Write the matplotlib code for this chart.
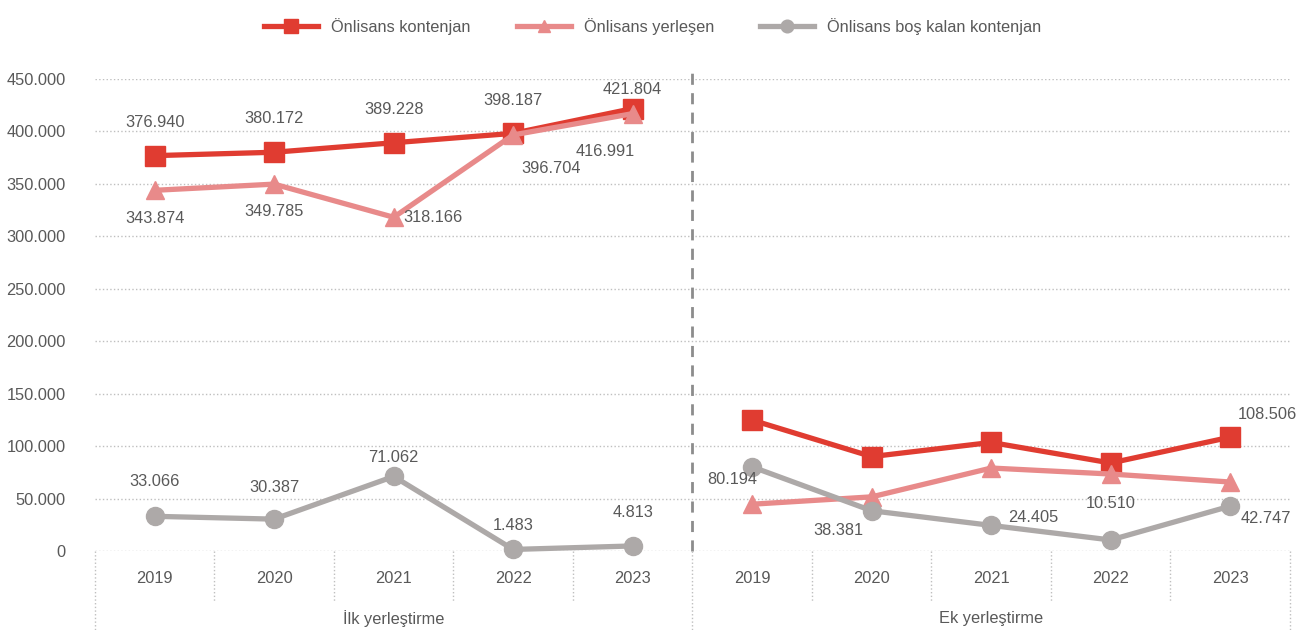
import matplotlib
matplotlib.use('Agg')
import matplotlib.pyplot as plt
from matplotlib import font_manager
from matplotlib.transforms import blended_transform_factory

# pick a narrow font if there is one
names = set(f.name for f in font_manager.fontManager.ttflist)
FONT = 'Liberation Sans Narrow' if 'Liberation Sans Narrow' in names else 'Liberation Sans'
plt.rcParams['font.family'] = [FONT, 'DejaVu Sans']
FS = 13 if FONT == 'Liberation Sans Narrow' else 11.8

groups = ['İlk yerleştirme', 'Ek yerleştirme']
years = ['2019', '2020', '2021', '2022', '2023']

ilk_kontenjan = [376940, 380172, 389228, 398187, 421804]
ilk_yerlesen = [343874, 349785, 318166, 396704, 416991]
ilk_bos = [33066, 30387, 71062, 1483, 4813]

ek_kontenjan = [124800, 90000, 103500, 83900, 108506]
ek_yerlesen = [44606, 51619, 79095, 73390, 65759]
ek_bos = [80194, 38381, 24405, 10510, 42747]

RED = '#E03C31'
PINK = '#E88A8A'
GRAY = '#ADA9A8'
TXT = '#595959'


def fmt(v):
	return '{:,}'.format(v).replace(',', '.')


fig = plt.figure(figsize=(13.06, 6.3), dpi=100)
ax = fig.add_axes([0.0727, 0.1254, 0.915, 0.7492])

n = len(years)
x1 = list(range(n))
x2 = [i + n for i in range(n)]

series = [
	('Önlisans kontenjan', ilk_kontenjan, ek_kontenjan, RED, 's', 15),
	('Önlisans yerleşen', ilk_yerlesen, ek_yerlesen, PINK, '^', 13),
	('Önlisans boş kalan kontenjan', ilk_bos, ek_bos, GRAY, 'o', 13),
]

for name, a, b, col, mk, ms in series:
	ax.plot(x1, a, color=col, lw=3.8, marker=mk, ms=ms, label=name, clip_on=False, zorder=3)
	ax.plot(x2, b, color=col, lw=3.8, marker=mk, ms=ms, clip_on=False, zorder=3)

# data labels (offsets in points)
lab = dict(fontsize=FS, color=TXT, ha='center', va='center')
kon_off = [(0, 24), (0, 24), (0, 24), (0, 24), (0, 14)]
yer_off = [(0, -20), (0, -20), (28, 0), (27, -24), (-20, -27)]
bos_off = [(0, 25), (0, 23), (0, 14), (0, 17), (0, 24)]
for i in range(n):
	ax.annotate(fmt(ilk_kontenjan[i]), (x1[i], ilk_kontenjan[i]), xytext=kon_off[i], textcoords='offset points', **lab)
	ax.annotate(fmt(ilk_yerlesen[i]), (x1[i], ilk_yerlesen[i]), xytext=yer_off[i], textcoords='offset points', **lab)
	ax.annotate(fmt(ilk_bos[i]), (x1[i], ilk_bos[i]), xytext=bos_off[i], textcoords='offset points', **lab)

ek_bos_off = [(-14, -9), (-24, -14), (30, 6), (0, 26), (26, -9)]
for i in range(n):
	ax.annotate(fmt(ek_bos[i]), (x2[i], ek_bos[i]), xytext=ek_bos_off[i], textcoords='offset points', **lab)
ax.annotate(fmt(ek_kontenjan[4]), (x2[4], ek_kontenjan[4]), xytext=(27, 16), textcoords='offset points', **lab)

ax.set_xlim(-0.5, 2 * n - 0.5)
ax.set_ylim(0, 450000)
ax.set_yticks(range(0, 450001, 50000))
ax.set_yticklabels([fmt(v) for v in range(0, 450001, 50000)], fontsize=FS, color=TXT)
ax.tick_params(axis='y', length=0, pad=21)
ax.set_xticks([])
ax.grid(axis='y', color='#BFBFBF', ls=':', lw=1)
ax.set_axisbelow(True)
for s in ax.spines.values():
	s.set_visible(False)

# dashed group separator
ax.axvline(n - 0.5, ymin=0, ymax=1.03, color='#8C8C8C', ls=(0, (4, 3)), lw=2, clip_on=False, zorder=2)

# category axis underneath
tr = blended_transform_factory(ax.transData, ax.transAxes)
for b in range(2 * n + 1):
	xb = b - 0.5
	bottom = -0.168 if b % n == 0 else -0.105
	ax.plot([xb, xb], [0, bottom], transform=tr, color='#BFBFBF', ls=':', lw=1, clip_on=False)
for i in range(2 * n):
	ax.text(i, -0.058, years[i % n], transform=tr, ha='center', va='center', fontsize=FS, color=TXT)
for g in range(2):
	ax.text(g * n + (n - 1) / 2, -0.143, groups[g], transform=tr, ha='center', va='center', fontsize=FS, color=TXT)

fig.legend(loc='upper center', bbox_to_anchor=(0.5, 0.99), ncol=3, frameon=False, fontsize=FS,
	labelcolor=TXT, handlelength=3.3, columnspacing=2.8, markerscale=0.7, borderaxespad=0.3)

plt.savefig('out.png', dpi=100)
